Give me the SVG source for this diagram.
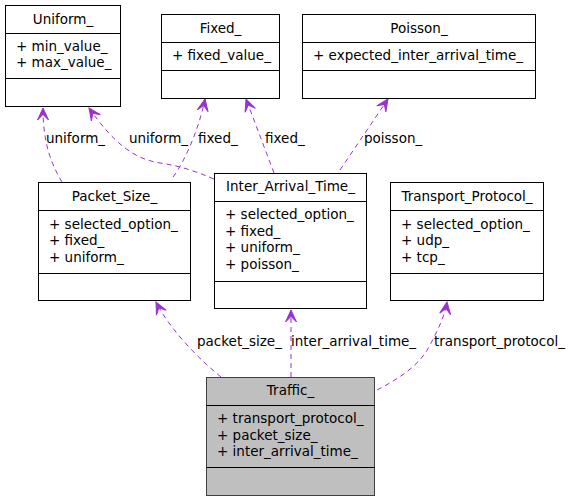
<svg xmlns="http://www.w3.org/2000/svg" width="569" height="501" viewBox="0 0 569 501">
<style>
.box{fill:#fff;stroke:#000;stroke-width:1}
.main{fill:#bfbfbf;stroke:#404040;stroke-width:1}
.sep{stroke:#000;stroke-width:1}
text{font-family:"DejaVu Sans","Liberation Sans",sans-serif;font-size:13.5px;fill:#000}
.t{text-anchor:middle}
.e{fill:none;stroke:#9a32cd;stroke-width:1;stroke-dasharray:5,4;marker-end:url(#vee)}
</style>
<defs>
<marker id="vee" markerUnits="userSpaceOnUse" viewBox="-13 -7 14 14" refX="0" refY="0" markerWidth="14" markerHeight="14" orient="auto">
<path d="M0,0 L-12,-5.5 L-6.5,0 L-12,5.5 Z" fill="#9a32cd" stroke="#9a32cd" stroke-width="1"/>
</marker>
</defs>
<rect width="569" height="501" fill="#fff"/>
<g id="edges">
<path class="e" d="M62,182 C52,165 43,145 43,108"/>
<text x="46" y="143">uniform_</text>
<path class="e" d="M214,179 C195,171 180,166 160,163 C135,159 115,145 89,108"/>
<text x="129" y="143">uniform_</text>
<path class="e" d="M173,177 C186,160 200,125 205,99"/>
<text x="198" y="143">fixed_</text>
<path class="e" d="M274,173 L246,99"/>
<text x="265" y="143">fixed_</text>
<path class="e" d="M340,170 L388,99"/>
<text x="364" y="143">poisson_</text>
<path class="e" d="M221,377 C200,360 170,330 156,302"/>
<text x="197" y="346">packet_size_</text>
<path class="e" d="M291,377 L291,310"/>
<text x="291" y="346">inter_arrival_time_</text>
<path class="e" d="M377,390 C400,378 420,365 430,345 C438,330 445,315 447,302"/>
<text x="434" y="346">transport_protocol_</text>
</g>
<g id="Uniform_">
<rect class="box" x="5.5" y="5.5" width="115" height="101"/>
<line class="sep" x1="5.5" y1="33.5" x2="120.5" y2="33.5"/>
<line class="sep" x1="5.5" y1="78.5" x2="120.5" y2="78.5"/>
<text class="t" x="63" y="23.5">Uniform_</text>
<text x="16" y="50.5">+ min_value_</text>
<text x="16" y="67">+ max_value_</text>
</g>
<g id="Fixed_">
<rect class="box" x="161.5" y="14.5" width="118" height="84"/>
<line class="sep" x1="161.5" y1="42.5" x2="279.5" y2="42.5"/>
<line class="sep" x1="161.5" y1="70.5" x2="279.5" y2="70.5"/>
<text class="t" x="220.5" y="33">Fixed_</text>
<text x="172" y="60">+ fixed_value_</text>
</g>
<g id="Poisson_">
<rect class="box" x="302.5" y="14.5" width="233" height="84"/>
<line class="sep" x1="302.5" y1="42.5" x2="535.5" y2="42.5"/>
<line class="sep" x1="302.5" y1="70.5" x2="535.5" y2="70.5"/>
<text class="t" x="419" y="33">Poisson_</text>
<text x="313" y="60">+ expected_inter_arrival_time_</text>
</g>
<g id="Packet_Size_">
<rect class="box" x="38.5" y="182.5" width="152" height="118"/>
<line class="sep" x1="38.5" y1="210.5" x2="190.5" y2="210.5"/>
<line class="sep" x1="38.5" y1="273.5" x2="190.5" y2="273.5"/>
<text class="t" x="114.5" y="201">Packet_Size_</text>
<text x="49" y="228.5">+ selected_option_</text>
<text x="49" y="245">+ fixed_</text>
<text x="49" y="261.5">+ uniform_</text>
</g>
<g id="Inter_Arrival_Time_">
<rect class="box" x="214.5" y="173.5" width="152" height="135"/>
<line class="sep" x1="214.5" y1="201.5" x2="366.5" y2="201.5"/>
<line class="sep" x1="214.5" y1="281.5" x2="366.5" y2="281.5"/>
<text class="t" x="290.5" y="191">Inter_Arrival_Time_</text>
<text x="225" y="219">+ selected_option_</text>
<text x="225" y="235.5">+ fixed_</text>
<text x="225" y="252">+ uniform_</text>
<text x="225" y="268.5">+ poisson_</text>
</g>
<g id="Transport_Protocol_">
<rect class="box" x="390.5" y="182.5" width="153" height="118"/>
<line class="sep" x1="390.5" y1="210.5" x2="543.5" y2="210.5"/>
<line class="sep" x1="390.5" y1="273.5" x2="543.5" y2="273.5"/>
<text class="t" x="467" y="201">Transport_Protocol_</text>
<text x="401" y="228.5">+ selected_option_</text>
<text x="401" y="245">+ udp_</text>
<text x="401" y="261.5">+ tcp_</text>
</g>
<g id="Traffic_">
<rect class="main" x="206.5" y="377.5" width="168" height="118"/>
<line class="sep" x1="206.5" y1="405.5" x2="374.5" y2="405.5"/>
<line class="sep" x1="206.5" y1="467.5" x2="374.5" y2="467.5"/>
<text class="t" x="290.5" y="394.5">Traffic_</text>
<text x="217" y="423">+ transport_protocol_</text>
<text x="217" y="439.5">+ packet_size_</text>
<text x="217" y="456">+ inter_arrival_time_</text>
</g>
</svg>
